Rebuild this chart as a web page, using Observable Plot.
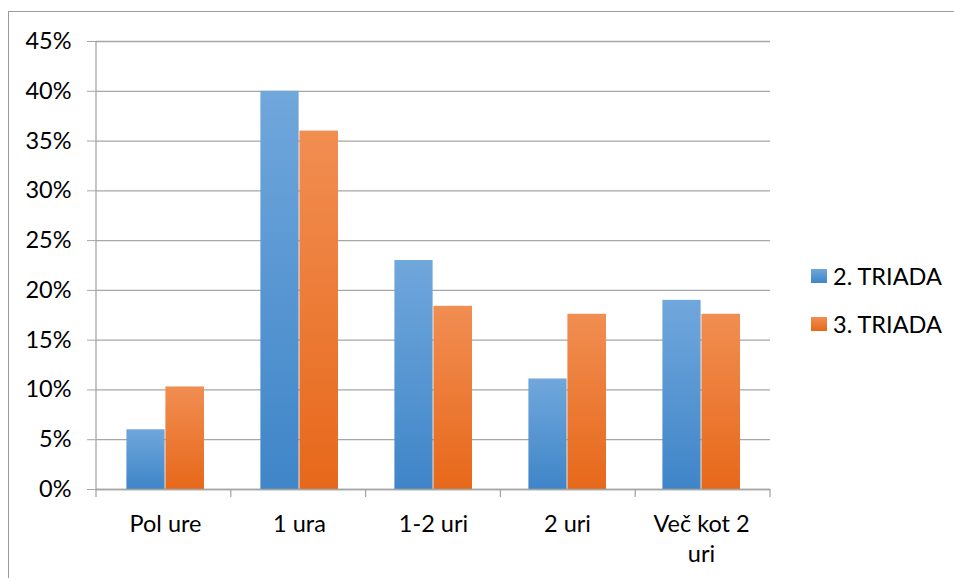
<!DOCTYPE html>
<html>
<head>
<meta charset="utf-8">
<script src="https://cdn.jsdelivr.net/npm/d3@7"></script>
<script src="https://cdn.jsdelivr.net/npm/@observablehq/plot@0.6"></script>
<style>
  html, body { margin: 0; padding: 0; background: #fff; }
  #wrap { position: relative; width: 954px; height: 578px; overflow: hidden; font-family: Lato, "Open Sans", sans-serif; }
  #border { position: absolute; left: 8px; top: 11px; width: 1000px; height: 700px; border: 1px solid #9a9a9a; box-sizing: border-box; }
  #chart { position: absolute; left: 0; top: 0; }
  .legend { position: absolute; left: 811px; font-size: 23.5px; color: #000; }
  .item { position: absolute; left: 0; display: flex; align-items: center; height: 28px; line-height: 28px; white-space: nowrap; }
  .sw { width: 16px; height: 14px; margin-right: 6px; }
</style>
</head>
<body>
<div id="wrap">
  <div id="border"></div>
  <div id="chart"></div>
  <div class="legend" id="legend"></div>
</div>
<script>
// ---- data ----
const categories = ["Pol ure", "1 ura", "1-2 uri", "2 uri", "Več kot 2\nuri"];
const series = ["2. TRIADA", "3. TRIADA"];
const triada2 = [0.060, 0.400, 0.230, 0.111, 0.190];
const triada3 = [0.103, 0.360, 0.184, 0.176, 0.176];
const yTicks = [0, 0.05, 0.10, 0.15, 0.20, 0.25, 0.30, 0.35, 0.40, 0.45];

const rows2 = categories.map((c, i) => ({cat: c, series: series[0], value: triada2[i]}));
const rows3 = categories.map((c, i) => ({cat: c, series: series[1], value: triada3[i]}));

const grid = "#a6a6a6";

// custom axis lines: vertical y axis line and category boundary ticks
const axisLines = (index, scales, values, dims) => {
  const {width, marginLeft, marginRight} = dims;
  const ns = "http://www.w3.org/2000/svg";
  const g = document.createElementNS(ns, "g");
  const y0 = scales.y(0);
  const yTop = scales.y(yTicks[yTicks.length - 1]);
  const bw = (width - marginLeft - marginRight) / categories.length;
  const line = (x1, y1, x2, y2) => {
    const l = document.createElementNS(ns, "line");
    l.setAttribute("x1", x1); l.setAttribute("y1", y1);
    l.setAttribute("x2", x2); l.setAttribute("y2", y2);
    l.setAttribute("stroke", grid); l.setAttribute("stroke-width", 1.3);
    g.appendChild(l);
  };
  line(marginLeft, yTop, marginLeft, y0);
  for (let i = 0; i <= categories.length; i++) {
    const x = marginLeft + i * bw;
    line(x, y0, x, y0 + 8);
  }
  return g;
};

const svg = Plot.plot({
  width: 954,
  height: 578,
  marginLeft: 96,
  marginRight: 184,
  marginTop: 41,
  marginBottom: 89,
  style: {fontFamily: "Lato, 'Open Sans', sans-serif", fontSize: "23.5px", color: "#000", background: "transparent"},
  x: {domain: categories, padding: 0, label: null},
  y: {domain: [0, 0.45], label: null},
  marks: [
    Plot.ruleY(yTicks, {stroke: grid, strokeWidth: 1.3}),
    Plot.barY(rows2, {x: "cat", y: "value", fill: "url(#gBlue)", insetLeft: 28.4, insetRight: 67.4}),
    Plot.barY(rows3, {x: "cat", y: "value", fill: "url(#gOrange)", insetLeft: 67.4, insetRight: 28.0}),
    Plot.ruleY([0], {stroke: grid, strokeWidth: 1.3}),
    Plot.axisY({ticks: yTicks, tickFormat: d3.format(".0%"), tickSize: 9, tickPadding: 16, stroke: grid, fill: "#000", fontSize: 23.5, label: null}),
    Plot.axisX({tickSize: 0, tickPadding: 21, fontSize: 23.5, lineHeight: 1.28, fill: "#000", label: null}),
    axisLines
  ]
});

// gradients for bars
const defs = d3.select(svg).insert("defs", ":first-child");
const addGrad = (id, top, bottom) => {
  const lg = defs.append("linearGradient").attr("id", id).attr("x1", 0).attr("y1", 0).attr("x2", 0).attr("y2", 1);
  lg.append("stop").attr("offset", "0%").attr("stop-color", top);
  lg.append("stop").attr("offset", "100%").attr("stop-color", bottom);
};
addGrad("gBlue", "#70a7dc", "#3f85c8");
addGrad("gOrange", "#f18e52", "#e7681a");

document.getElementById("chart").appendChild(svg);

// legend
const legend = document.getElementById("legend");
const swatchBg = ["linear-gradient(#70a7dc, #3f85c8)", "linear-gradient(#f18e52, #e7681a)"];
series.forEach((s, i) => {
  const item = document.createElement("div");
  item.className = "item";
  item.style.top = (262 + i * 47.5) + "px";
  const sw = document.createElement("span");
  sw.className = "sw";
  sw.style.background = swatchBg[i];
  const t = document.createElement("span");
  t.textContent = s;
  item.appendChild(sw); item.appendChild(t);
  legend.appendChild(item);
});
</script>
</body>
</html>
